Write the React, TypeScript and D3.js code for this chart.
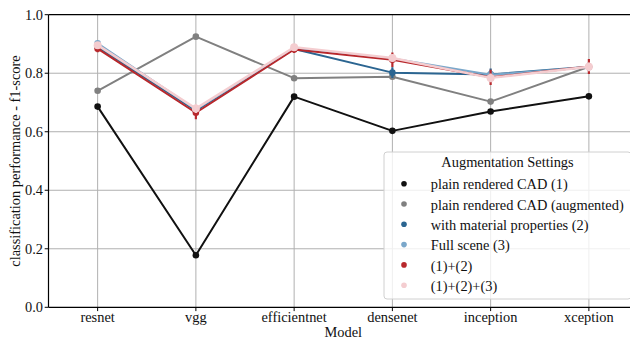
import React from "react";
import * as d3 from "d3";

const models = ["resnet", "vgg", "efficientnet", "densenet", "inception", "xception"];
const yTicks = [0, 0.2, 0.4, 0.6, 0.8, 1.0];

const plainCAD = [0.686, 0.178, 0.72, 0.603, 0.669, 0.721];
const plainAug = [0.74, 0.925, 0.783, 0.788, 0.703, 0.822];
const material = [0.89, 0.672, 0.883, 0.802, 0.796, 0.822];
const fullScene = [0.902, 0.676, 0.886, 0.85, 0.795, 0.82];
const cadMat = [0.884, 0.665, 0.881, 0.846, 0.786, 0.823];
const allThree = [0.896, 0.679, 0.889, 0.852, 0.784, 0.822];

const plainCADErr = [0.006, 0.008, 0.006, 0.004, 0.005, 0.005];
const plainAugErr = [0.004, 0.004, 0.004, 0.004, 0.004, 0.004];
const materialErr = [0.008, 0.008, 0.006, 0.018, 0.02, 0.015];
const fullSceneErr = [0.008, 0.01, 0.008, 0.01, 0.015, 0.01];
const cadMatErr = [0.012, 0.022, 0.012, 0.025, 0.026, 0.026];
const allThreeErr = [0.01, 0.015, 0.01, 0.012, 0.015, 0.015];

const seriesNames = [
  "plain rendered CAD (1)",
  "plain rendered CAD (augmented)",
  "with material properties (2)",
  "Full scene (3)",
  "(1)+(2)",
  "(1)+(2)+(3)",
];
const seriesValues = [plainCAD, plainAug, material, fullScene, cadMat, allThree];
const seriesErrors = [plainCADErr, plainAugErr, materialErr, fullSceneErr, cadMatErr, allThreeErr];
const colors = ["#111111", "#808080", "#2b6591", "#7aa7ca", "#b8282c", "#f4cdd0"];

const W = 630;
const H = 338;
const left = 48.5;
const rightLim = 638;
const top = 14.7;
const bottom = 307.3;
const FONT = "'Liberation Serif', 'Times New Roman', serif";
const FS = 14.4;

export default function App() {
  const x = d3.scalePoint<string>().domain(models).range([left, rightLim]).padding(0.5);
  const y = d3.scaleLinear().domain([0, 1]).range([bottom, top]);
  const line = d3
    .line<number>()
    .x((_, i) => x(models[i]) as number)
    .y((d) => y(d));

  const legX = 384;
  const legY = 152;
  const legW = 247;
  const legH = 147;

  return (
    <div style={{ position: "fixed", left: 0, top: 0 }}>
      <svg width={W} height={H} style={{ display: "block" }} fontFamily={FONT}>
        <rect x={0} y={0} width={W} height={H} fill="white" />
        <defs>
          <clipPath id="plot">
            <rect x={left} y={top - 6} width={rightLim - left} height={bottom - top + 12} />
          </clipPath>
        </defs>
        {/* grid */}
        {yTicks.slice(1, -1).map((t) => (
          <line key={"gy" + t} x1={left} x2={rightLim} y1={y(t)} y2={y(t)} stroke="#b0b0b0" strokeWidth={1} />
        ))}
        {models.map((m) => (
          <line key={"gx" + m} x1={x(m)} x2={x(m)} y1={top} y2={bottom} stroke="#b0b0b0" strokeWidth={1} />
        ))}
        {/* series */}
        <g clipPath="url(#plot)">
          {seriesValues.map((vals, si) => (
            <g key={"s" + si}>
              <path d={line(vals) || ""} fill="none" stroke={colors[si]} strokeWidth={si === 5 ? 2.4 : 2} strokeLinejoin="round" />
              {vals.map((v, i) => (
                <line
                  key={"e" + i}
                  x1={x(models[i])}
                  x2={x(models[i])}
                  y1={y(v - seriesErrors[si][i])}
                  y2={y(v + seriesErrors[si][i])}
                  stroke={colors[si]}
                  strokeWidth={2.2}
                />
              ))}
              {vals.map((v, i) => (
                <circle key={"c" + i} cx={x(models[i])} cy={y(v)} r={si === 5 ? 4 : 3.3} fill={colors[si]} />
              ))}
            </g>
          ))}
        </g>
        {/* spines */}
        <line x1={left} x2={rightLim} y1={top} y2={top} stroke="black" strokeWidth={1.2} />
        <line x1={left} x2={rightLim} y1={bottom} y2={bottom} stroke="black" strokeWidth={1.2} />
        <line x1={left} x2={left} y1={top} y2={bottom} stroke="black" strokeWidth={1.2} />
        {/* y ticks */}
        {yTicks.map((t) => (
          <g key={"yt" + t}>
            <line x1={left - 3.8} x2={left} y1={y(t)} y2={y(t)} stroke="black" strokeWidth={1} />
            <text x={left - 5.5} y={y(t)} dy="0.34em" textAnchor="end" fontSize={FS} fill="#111">
              {t.toFixed(1)}
            </text>
          </g>
        ))}
        {/* x ticks */}
        {models.map((m) => (
          <g key={"xt" + m}>
            <line x1={x(m)} x2={x(m)} y1={bottom} y2={bottom + 3.8} stroke="black" strokeWidth={1} />
            <text x={x(m)} y={322} textAnchor="middle" fontSize={FS} fill="#111">
              {m}
            </text>
          </g>
        ))}
        <text x={(left + rightLim) / 2} y={336.5} textAnchor="middle" fontSize={FS} fill="#111">
          Model
        </text>
        <text
          transform={`translate(20,${(top + bottom) / 2}) rotate(-90)`}
          textAnchor="middle"
          fontSize={FS}
          fill="#111"
        >
          classification performance - f1-score
        </text>
        {/* legend */}
        <rect x={legX} y={legY} width={legW} height={legH} rx={3} fill="white" fillOpacity={0.8} stroke="#d0d0d0" strokeWidth={1} />
        <text x={legX + legW / 2} y={167.3} textAnchor="middle" fontSize={FS} fill="#111">
          Augmentation Settings
        </text>
        {seriesNames.map((n, i) => (
          <g key={"l" + i}>
            <circle cx={404} cy={189.3 + i * 20.3 - 5.6} r={2.8} fill={colors[i]} />
            <text x={430.7} y={189.3 + i * 20.3} fontSize={FS} fill="#111">
              {n}
            </text>
          </g>
        ))}
      </svg>
    </div>
  );
}
